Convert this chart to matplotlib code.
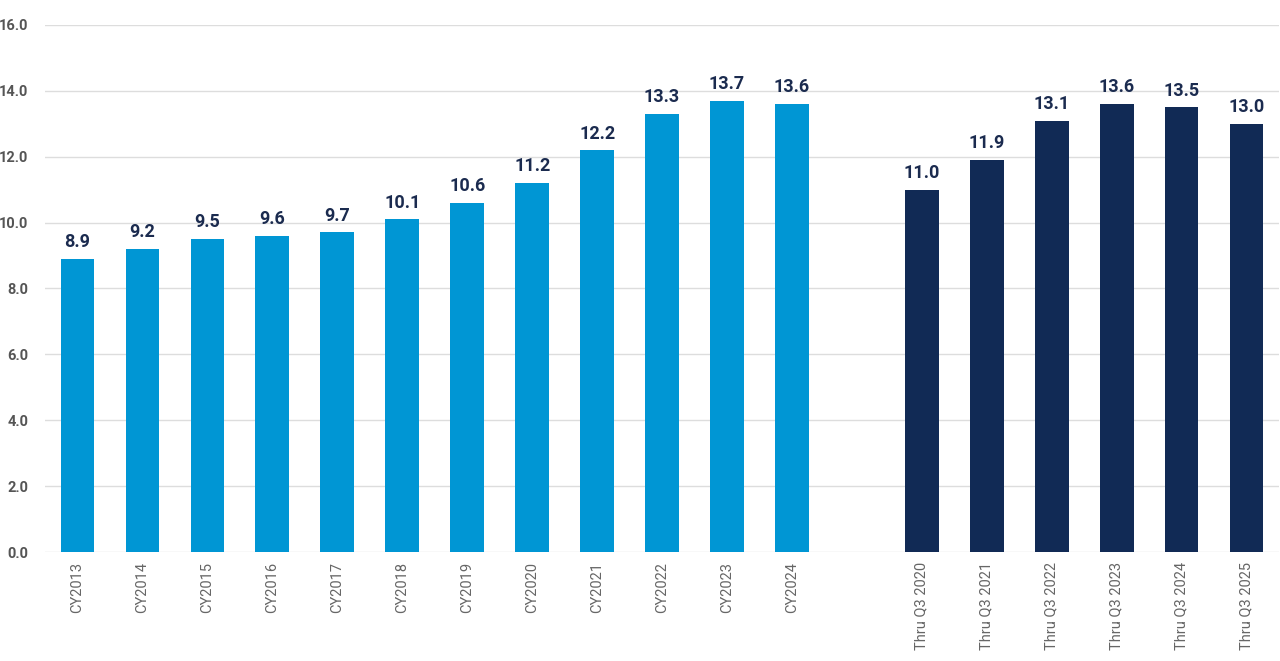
import matplotlib
matplotlib.use("Agg")
import matplotlib.pyplot as plt

cy_labels = ["CY2013", "CY2014", "CY2015", "CY2016", "CY2017", "CY2018",
             "CY2019", "CY2020", "CY2021", "CY2022", "CY2023", "CY2024"]
cy_values = [8.9, 9.2, 9.5, 9.6, 9.7, 10.1, 10.6, 11.2, 12.2, 13.3, 13.7, 13.6]
q3_labels = ["Thru Q3 2020", "Thru Q3 2021", "Thru Q3 2022",
             "Thru Q3 2023", "Thru Q3 2024", "Thru Q3 2025"]
q3_values = [11.0, 11.9, 13.1, 13.6, 13.5, 13.0]
y_ticks = [0, 2, 4, 6, 8, 10, 12, 14, 16]

light_blue = "#0096d4"
navy = "#112a55"
label_color = "#1b2b4f"

plt.rcParams['font.family'] = ['Roboto', 'DejaVu Sans']

fig = plt.figure(figsize=(12.8, 6.61), dpi=100)
ax = fig.add_axes([0.0352, 0.1649, 0.9640, 0.7973])

x_cy = list(range(len(cy_values)))
x_q3 = [len(cy_values) + 1 + i for i in range(len(q3_values))]
w = 0.52

b1 = ax.bar(x_cy, cy_values, width=w, color=light_blue, zorder=3)
b2 = ax.bar(x_q3, q3_values, width=w, color=navy, zorder=3)

for bars, vals in ((b1, cy_values), (b2, q3_values)):
    for rect, v in zip(bars, vals):
        ax.annotate(f"{v:.1f}", (rect.get_x() + rect.get_width() / 2, v),
                    xytext=(0, 5.5), textcoords="offset points",
                    ha="center", va="bottom", fontsize=13, fontweight="bold",
                    color=label_color)

ax.set_xlim(-0.5, x_q3[-1] + 0.5)
ax.set_ylim(0, 16)
ax.set_yticks(y_ticks)
ax.set_yticklabels([f"{t:.1f}" for t in y_ticks])
ax.set_xticks(x_cy + x_q3)
ax.set_xticklabels(cy_labels + q3_labels, rotation=90, fontsize=10.5, color="#666666")

for lab in ax.get_yticklabels():
    lab.set_fontweight("bold")
    lab.set_fontsize(10.5)
    lab.set_color("#555555")

ax.tick_params(axis="both", length=0)
ax.tick_params(axis="y", pad=12)
ax.tick_params(axis="x", pad=7)
ax.grid(axis="y", color="#dddddd", linewidth=1, zorder=0)
for s in ax.spines.values():
    s.set_visible(False)

fig.savefig("out.png", dpi=100)
